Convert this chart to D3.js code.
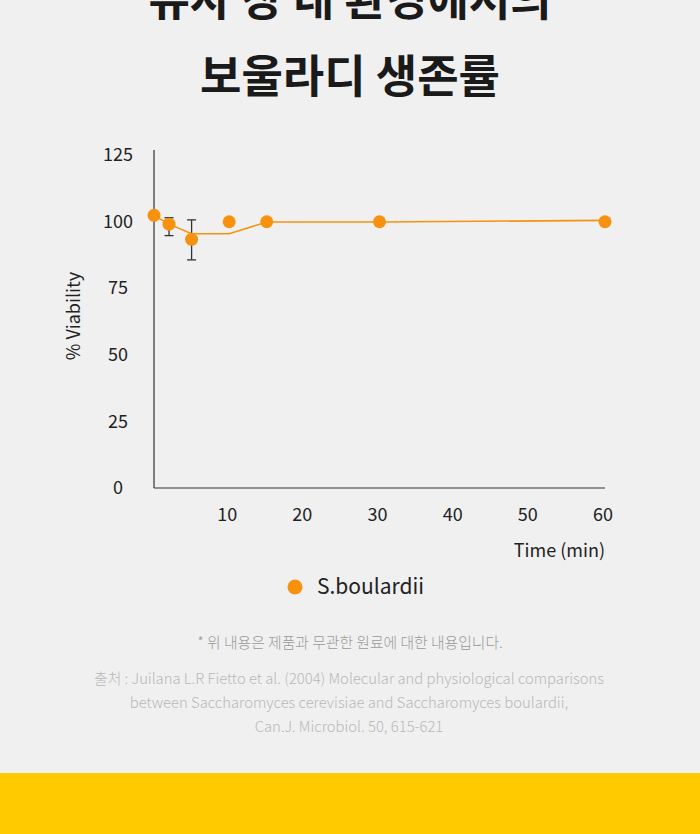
<!DOCTYPE html>
<html>
<head>
<meta charset="utf-8">
<script src="https://cdn.jsdelivr.net/npm/d3@7"></script>
<style>
  html, body { margin: 0; padding: 0; background: #f0f0f0; }
  svg { display: block; font-family: "Noto Sans CJK KR", "Noto Sans", sans-serif; }
</style>
</head>
<body>
<div id="chart"></div>
<script>
// data
const times = [0, 2, 5, 10, 15, 30, 60];
const viability = [102.2, 98.9, 93.2, 99.8, 99.8, 99.8, 99.8];
const meanTimes = [0, 2, 5, 10, 15, 30, 60];
const meanLine = [102.2, 98.9, 95.3, 95.3, 99.7, 99.7, 100.3];
const errTimes = [2, 5];
const errLow = [94.6, 85.5];
const errHigh = [101.3, 100.5];
const yTicks = [0, 25, 50, 75, 100, 125];
const xTicks = [10, 20, 30, 40, 50, 60];
const titleLines = ['유사 장 내 환경에서의', '보울라디 생존률'];
const seriesName = 'S.boulardii';
const note = '* 위 내용은 제품과 무관한 원료에 대한 내용입니다.';
const sourceLines = [
  '출처 : Juilana L.R Fietto et al. (2004) Molecular and physiological comparisons',
  'between Saccharomyces cerevisiae and Saccharomyces boulardii,',
  'Can.J. Microbiol. 50, 615-621'
];

const W = 700, H = 834;
const ORANGE = '#f7920f';
const AXIS = '#333';

const svg = d3.select('#chart').append('svg').attr('width', W).attr('height', H);
svg.append('rect').attr('width', W).attr('height', H).attr('fill', '#f0f0f0');

// Title (first line is cut by the top edge, as in the source)
svg.selectAll('text.title').data(titleLines).join('text')
  .attr('class', 'title')
  .attr('x', W / 2)
  .attr('y', (d, i) => 16 + i * 77)
  .attr('text-anchor', 'middle')
  .attr('font-size', 45)
  .attr('font-weight', 700)
  .attr('fill', '#1a1a1a')
  .text(d => d);

const x = d3.scaleLinear().domain([0, 60]).range([154, 605]);
const y = d3.scaleLinear().domain([0, 125]).range([488, 154.5]);

// axes — plain lines, labels placed by hand
svg.append('line')
  .attr('x1', x(0)).attr('x2', x(0))
  .attr('y1', 150).attr('y2', y(0))
  .attr('stroke', AXIS).attr('stroke-width', 1.2);
svg.append('line')
  .attr('x1', x(0)).attr('x2', x(60))
  .attr('y1', y(0)).attr('y2', y(0))
  .attr('stroke', AXIS).attr('stroke-width', 1.2);

svg.selectAll('text.ytick').data(yTicks).join('text')
  .attr('class', 'ytick')
  .attr('x', 118)
  .attr('y', d => y(d))
  .attr('dy', '0.35em')
  .attr('text-anchor', 'middle')
  .attr('font-size', 18)
  .attr('fill', '#222')
  .text(d => d);

svg.selectAll('text.xtick').data(xTicks).join('text')
  .attr('class', 'xtick')
  .attr('x', d => x(d) - 2)
  .attr('y', 515)
  .attr('dy', '0.35em')
  .attr('text-anchor', 'middle')
  .attr('font-size', 18)
  .attr('fill', '#222')
  .text(d => d);

svg.append('text')
  .attr('x', x(60)).attr('y', 551).attr('dy', '0.35em')
  .attr('text-anchor', 'end')
  .attr('font-size', 18).attr('fill', '#222')
  .text('Time (min)');

svg.append('text')
  .attr('transform', 'translate(74,316) rotate(-90)')
  .attr('dy', '0.35em')
  .attr('text-anchor', 'middle')
  .attr('font-size', 18).attr('fill', '#222')
  .text('% Viability');

// error bars
const errs = errTimes.map((t, i) => ({ t, lo: errLow[i], hi: errHigh[i] }));
const eb = svg.append('g').selectAll('g').data(errs).join('g')
  .attr('stroke', AXIS).attr('stroke-width', 1.3);
eb.append('line')
  .attr('x1', d => x(d.t)).attr('x2', d => x(d.t))
  .attr('y1', d => y(d.hi)).attr('y2', d => y(d.lo));
eb.append('line')
  .attr('x1', d => x(d.t) - 4.5).attr('x2', d => x(d.t) + 4.5)
  .attr('y1', d => y(d.hi)).attr('y2', d => y(d.hi));
eb.append('line')
  .attr('x1', d => x(d.t) - 4.5).attr('x2', d => x(d.t) + 4.5)
  .attr('y1', d => y(d.lo)).attr('y2', d => y(d.lo));

// mean line
const line = d3.line().x(d => x(d[0])).y(d => y(d[1]));
svg.append('path')
  .datum(meanTimes.map((t, i) => [t, meanLine[i]]))
  .attr('d', line)
  .attr('fill', 'none')
  .attr('stroke', ORANGE)
  .attr('stroke-width', 1.6);

// points
svg.append('g').selectAll('circle').data(times.map((t, i) => [t, viability[i]])).join('circle')
  .attr('cx', d => x(d[0]))
  .attr('cy', d => y(d[1]))
  .attr('r', 6.5)
  .attr('fill', ORANGE);

// legend
svg.append('circle').attr('cx', 295).attr('cy', 587).attr('r', 7.5).attr('fill', ORANGE);
svg.append('text')
  .attr('x', 317).attr('y', 587).attr('dy', '0.35em')
  .attr('font-size', 21).attr('fill', '#222')
  .text(seriesName);

// footnotes
svg.append('text')
  .attr('x', W / 2).attr('y', 643).attr('dy', '0.35em')
  .attr('text-anchor', 'middle')
  .attr('font-size', 14.8).attr('font-weight', 300).attr('fill', '#999')
  .text(note);

svg.selectAll('text.src').data(sourceLines).join('text')
  .attr('class', 'src')
  .attr('x', W / 2 - 1)
  .attr('y', (d, i) => 679 + i * 24)
  .attr('dy', '0.35em')
  .attr('text-anchor', 'middle')
  .attr('font-size', 14.8).attr('font-weight', 300).attr('fill', '#b8b8b8')
  .text(d => d);

// yellow band at the bottom
svg.append('rect')
  .attr('x', 0).attr('y', 773).attr('width', W).attr('height', H - 773)
  .attr('fill', '#ffca00');
</script>
</body>
</html>
